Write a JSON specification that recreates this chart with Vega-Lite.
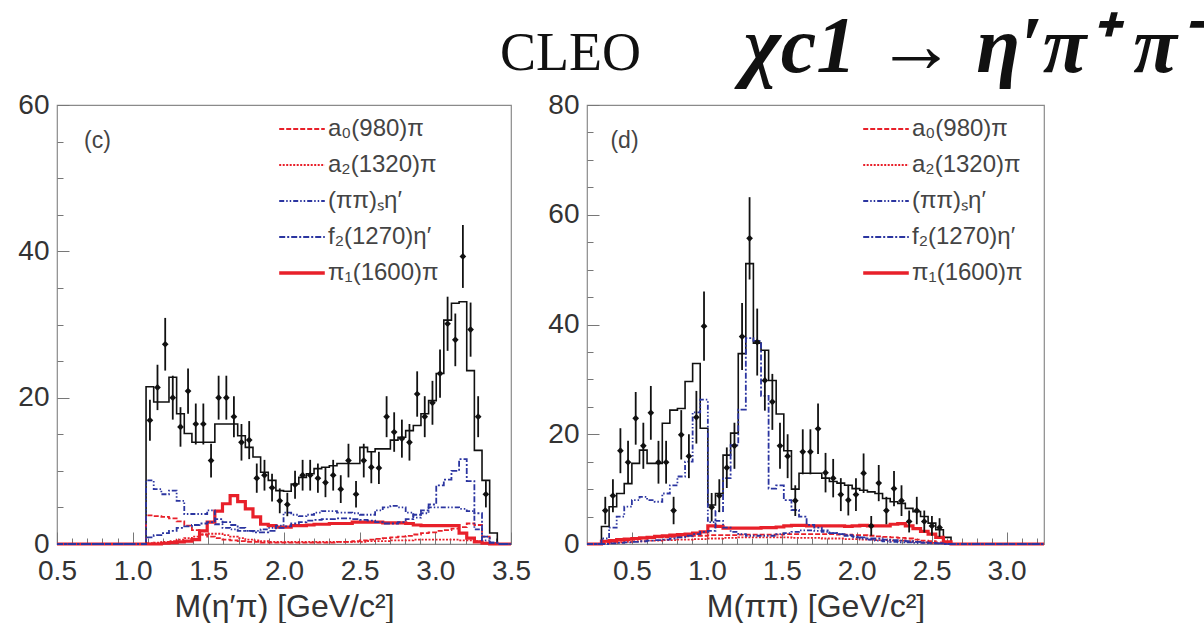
{
  "$schema": "https://vega.github.io/schema/vega-lite/v6.json",
  "background": "white",
  "padding": {"left": 17, "top": 7, "right": 0, "bottom": 0},
  "bounds": "flush",
  "spacing": 76,
  "config": {
    "view": {"stroke": "#8a8a8a", "strokeWidth": 1.2},
    "axis": {"grid": false, "domain": false, "tickColor": "#777", "labelFont": "Liberation Sans", "labelColor": "#333", "titleFont": "Liberation Sans", "titleColor": "#333", "titleFontWeight": "normal", "labelFlush": false, "labelOverlap": false},
    "legend": {"title": null, "orient": "none", "symbolType": "M-1.25,0H1.25", "symbolSize": 1330, "labelFont": "Liberation Sans", "labelFontSize": 24, "labelColor": "#444", "rowPadding": 12, "padding": 0}
  },
  "datasets": {
    "L": [
      {"x":0.5,"t":0,"a0":0,"a2":0,"s":0,"f2":0,"p1":0},
      {"x":1.063,"t":0,"a0":0,"a2":0,"s":0,"f2":0,"p1":0},
      {"x":1.114,"d":16.9,"lo":14.1,"hi":19.7,"t":21.5,"a0":3.9,"a2":0.1,"s":8.7,"f2":0.9,"p1":0},
      {"x":1.164,"d":21.4,"lo":18.3,"hi":24.5,"t":19.4,"a0":3.8,"a2":0.2,"s":7.5,"f2":1.2,"p1":0},
      {"x":1.215,"d":27.3,"lo":23.7,"hi":30.9,"t":19.4,"a0":3.7,"a2":0.3,"s":6.8,"f2":1.5,"p1":0.1},
      {"x":1.265,"d":20.0,"lo":17.0,"hi":23.0,"t":22.8,"a0":3.5,"a2":0.4,"s":7.3,"f2":1.8,"p1":0.2},
      {"x":1.316,"d":16.0,"lo":13.3,"hi":18.7,"t":17.8,"a0":3.1,"a2":0.6,"s":5.9,"f2":2.2,"p1":0.3},
      {"x":1.366,"d":20.9,"lo":17.8,"hi":24.0,"t":15.1,"a0":2.5,"a2":0.8,"s":4.1,"f2":2.4,"p1":0.4},
      {"x":1.417,"d":16.4,"lo":13.6,"hi":19.2,"t":13.9,"a0":1.9,"a2":1.0,"s":4.1,"f2":2.6,"p1":0.6},
      {"x":1.467,"d":16.4,"lo":13.6,"hi":19.2,"t":13.9,"a0":1.3,"a2":1.3,"s":4.1,"f2":2.8,"p1":1.8},
      {"x":1.518,"d":11.4,"lo":9.1,"hi":13.7,"t":13.9,"a0":1.0,"a2":1.4,"s":4.6,"f2":3.0,"p1":3.0},
      {"x":1.568,"d":20.0,"lo":17.0,"hi":23.0,"t":16.4,"a0":0.8,"a2":1.4,"s":2.7,"f2":3.4,"p1":4.5},
      {"x":1.619,"d":20.0,"lo":17.0,"hi":23.0,"t":16.4,"a0":0.6,"a2":1.2,"s":2.2,"f2":3.0,"p1":5.5},
      {"x":1.669,"d":17.4,"lo":14.6,"hi":20.2,"t":16.4,"a0":0.5,"a2":1.0,"s":2.0,"f2":2.6,"p1":6.6},
      {"x":1.719,"d":13.9,"lo":11.4,"hi":16.4,"t":14.8,"a0":0.4,"a2":0.8,"s":1.8,"f2":2.2,"p1":5.8},
      {"x":1.770,"d":14.2,"lo":11.6,"hi":16.8,"t":13.2,"a0":0.3,"a2":0.6,"s":1.8,"f2":1.8,"p1":4.8},
      {"x":1.820,"d":9.0,"lo":7.0,"hi":11.0,"t":11.9,"a0":0.3,"a2":0.5,"s":1.8,"f2":1.6,"p1":3.7},
      {"x":1.871,"d":9.4,"lo":7.3,"hi":11.5,"t":9.8,"a0":0.2,"a2":0.4,"s":2.0,"f2":1.6,"p1":2.7},
      {"x":1.921,"d":7.7,"lo":5.8,"hi":9.6,"t":8.7,"a0":0.2,"a2":0.3,"s":2.2,"f2":1.8,"p1":2.5},
      {"x":1.972,"d":5.9,"lo":4.2,"hi":7.6,"t":7.3,"a0":0.2,"a2":0.3,"s":2.5,"f2":2.2,"p1":2.3},
      {"x":2.022,"d":5.4,"lo":3.8,"hi":7.0,"t":7.2,"a0":0.2,"a2":0.3,"s":4.3,"f2":2.4,"p1":2.3},
      {"x":2.073,"d":8.1,"lo":6.2,"hi":10.0,"t":8.2,"a0":0.2,"a2":0.3,"s":4.0,"f2":2.8,"p1":2.5},
      {"x":2.123,"d":9.4,"lo":7.3,"hi":11.5,"t":9.1,"a0":0.2,"a2":0.3,"s":3.8,"f2":3.0,"p1":2.5},
      {"x":2.173,"d":9.4,"lo":7.3,"hi":11.5,"t":9.6,"a0":0.2,"a2":0.3,"s":4.0,"f2":3.2,"p1":2.6},
      {"x":2.224,"d":9.0,"lo":7.0,"hi":11.0,"t":10.3,"a0":0.2,"a2":0.3,"s":4.3,"f2":3.3,"p1":2.7},
      {"x":2.274,"d":8.4,"lo":6.4,"hi":10.4,"t":10.5,"a0":0.2,"a2":0.3,"s":4.5,"f2":3.4,"p1":2.7},
      {"x":2.325,"d":9.4,"lo":7.3,"hi":11.5,"t":10.7,"a0":0.2,"a2":0.3,"s":4.5,"f2":3.4,"p1":2.8},
      {"x":2.375,"d":7.5,"lo":5.6,"hi":9.4,"t":11.0,"a0":0.3,"a2":0.3,"s":4.3,"f2":3.5,"p1":2.8},
      {"x":2.426,"d":11.4,"lo":9.1,"hi":13.7,"t":11.0,"a0":0.3,"a2":0.3,"s":4.3,"f2":3.5,"p1":2.8},
      {"x":2.476,"d":6.8,"lo":5.0,"hi":8.6,"t":11.0,"a0":0.4,"a2":0.3,"s":4.2,"f2":3.4,"p1":3.0},
      {"x":2.527,"d":11.4,"lo":9.1,"hi":13.7,"t":13.2,"a0":0.5,"a2":0.3,"s":4.0,"f2":3.3,"p1":3.0},
      {"x":2.577,"d":10.5,"lo":8.3,"hi":12.7,"t":12.6,"a0":0.6,"a2":0.4,"s":4.0,"f2":3.2,"p1":3.0},
      {"x":2.627,"d":10.4,"lo":8.2,"hi":12.6,"t":13.0,"a0":0.7,"a2":0.4,"s":4.6,"f2":3.0,"p1":3.0},
      {"x":2.678,"d":17.4,"lo":14.6,"hi":20.2,"t":13.0,"a0":0.8,"a2":0.4,"s":5.0,"f2":2.8,"p1":2.9},
      {"x":2.728,"d":15.3,"lo":12.6,"hi":18.0,"t":14.2,"a0":0.9,"a2":0.5,"s":5.2,"f2":2.8,"p1":2.9},
      {"x":2.779,"d":14.4,"lo":11.8,"hi":17.0,"t":14.6,"a0":1.0,"a2":0.5,"s":5.0,"f2":3.0,"p1":2.9},
      {"x":2.829,"d":13.9,"lo":11.4,"hi":16.4,"t":15.5,"a0":1.1,"a2":0.5,"s":4.3,"f2":3.4,"p1":2.8},
      {"x":2.880,"d":20.5,"lo":17.4,"hi":23.6,"t":16.2,"a0":1.3,"a2":0.6,"s":3.6,"f2":4.0,"p1":2.6},
      {"x":2.930,"d":17.4,"lo":14.6,"hi":20.2,"t":17.8,"a0":1.5,"a2":0.6,"s":4.2,"f2":4.6,"p1":2.5},
      {"x":2.981,"d":19.3,"lo":16.3,"hi":22.3,"t":19.6,"a0":1.6,"a2":0.6,"s":5.0,"f2":5.4,"p1":2.5},
      {"x":3.031,"d":23.3,"lo":20.0,"hi":26.6,"t":23.3,"a0":1.8,"a2":0.6,"s":5.0,"f2":8.0,"p1":2.5},
      {"x":3.081,"d":30.1,"lo":26.4,"hi":33.8,"t":30.6,"a0":1.9,"a2":0.6,"s":5.0,"f2":8.8,"p1":2.5},
      {"x":3.132,"d":27.9,"lo":24.3,"hi":31.5,"t":32.9,"a0":2.1,"a2":0.6,"s":5.0,"f2":10.0,"p1":2.5},
      {"x":3.182,"d":39.3,"lo":35.0,"hi":43.6,"t":33.1,"a0":2.3,"a2":0.5,"s":4.8,"f2":11.6,"p1":1.5},
      {"x":3.233,"d":29.3,"lo":25.6,"hi":33.0,"t":23.7,"a0":2.8,"a2":0.5,"s":4.5,"f2":8.6,"p1":0.8},
      {"x":3.283,"d":17.4,"lo":14.6,"hi":20.2,"t":12.8,"a0":2.6,"a2":0.4,"s":2.0,"f2":4.2,"p1":0.3},
      {"x":3.334,"d":6.8,"lo":5.0,"hi":8.6,"t":8.7,"a0":1.0,"a2":0.2,"s":0.5,"f2":1.0,"p1":0.1},
      {"x":3.384,"t":1.5,"a0":0.1,"a2":0.1,"s":0.2,"f2":0.2,"p1":0},
      {"x":3.435,"t":0,"a0":0,"a2":0,"s":0,"f2":0,"p1":0},
      {"x":3.5,"t":0,"a0":0,"a2":0,"s":0,"f2":0,"p1":0}
    ],
    "R": [
      {"x":0.2,"t":0,"a0":0,"a2":0,"s":0,"f2":0,"p1":0},
      {"x":0.271,"t":0,"a0":0,"a2":0,"s":0,"f2":0,"p1":0},
      {"x":0.322,"d":6.1,"lo":3.6,"hi":8.6,"t":3.2,"a0":0.2,"a2":0.1,"s":1.0,"f2":0,"p1":0.5},
      {"x":0.373,"d":8.8,"lo":5.8,"hi":11.8,"t":6.8,"a0":0.4,"a2":0.2,"s":3.0,"f2":0.1,"p1":0.6},
      {"x":0.423,"d":17.0,"lo":12.9,"hi":21.1,"t":9.2,"a0":0.6,"a2":0.3,"s":5.0,"f2":0.2,"p1":0.8},
      {"x":0.474,"d":14.9,"lo":11.0,"hi":18.8,"t":11.0,"a0":0.7,"a2":0.4,"s":6.8,"f2":0.3,"p1":0.9},
      {"x":0.525,"d":22.9,"lo":18.1,"hi":27.7,"t":14.7,"a0":0.9,"a2":0.5,"s":8.0,"f2":0.4,"p1":1.0},
      {"x":0.576,"d":17.9,"lo":13.7,"hi":22.1,"t":17.1,"a0":1.0,"a2":0.5,"s":8.6,"f2":0.5,"p1":1.1},
      {"x":0.626,"d":23.9,"lo":19.0,"hi":28.8,"t":14.7,"a0":1.1,"a2":0.6,"s":8.0,"f2":0.6,"p1":1.2},
      {"x":0.677,"d":14.9,"lo":11.0,"hi":18.8,"t":14.7,"a0":1.2,"a2":0.6,"s":7.7,"f2":0.7,"p1":1.4},
      {"x":0.728,"d":14.9,"lo":11.0,"hi":18.8,"t":22.0,"a0":1.2,"a2":0.7,"s":9.2,"f2":0.8,"p1":1.5},
      {"x":0.778,"d":6.1,"lo":3.6,"hi":8.6,"t":24.4,"a0":1.3,"a2":0.7,"s":10.7,"f2":1.0,"p1":1.6},
      {"x":0.829,"d":19.9,"lo":15.4,"hi":24.4,"t":24.7,"a0":1.4,"a2":0.8,"s":12.3,"f2":1.2,"p1":1.7},
      {"x":0.880,"d":16.0,"lo":12.0,"hi":20.0,"t":29.6,"a0":1.4,"a2":0.8,"s":15.0,"f2":1.5,"p1":1.8},
      {"x":0.930,"d":23.1,"lo":18.3,"hi":27.9,"t":32.9,"a0":1.5,"a2":0.9,"s":24.0,"f2":1.8,"p1":2.0},
      {"x":0.981,"d":39.7,"lo":33.4,"hi":46.0,"t":21.1,"a0":1.5,"a2":0.9,"s":26.3,"f2":2.2,"p1":2.2},
      {"x":1.032,"d":6.7,"lo":4.1,"hi":9.3,"t":7.1,"a0":1.6,"a2":1.0,"s":4.0,"f2":2.4,"p1":3.3},
      {"x":1.083,"d":8.8,"lo":5.8,"hi":11.8,"t":9.2,"a0":1.6,"a2":1.0,"s":4.2,"f2":6.0,"p1":3.2},
      {"x":1.133,"d":13.9,"lo":10.2,"hi":17.6,"t":16.2,"a0":1.6,"a2":1.1,"s":3.0,"f2":12.0,"p1":2.9},
      {"x":1.184,"d":17.9,"lo":13.7,"hi":22.1,"t":20.2,"a0":1.6,"a2":1.1,"s":2.2,"f2":18.0,"p1":2.9},
      {"x":1.235,"d":37.8,"lo":31.7,"hi":43.9,"t":34.7,"a0":1.7,"a2":1.2,"s":1.8,"f2":24.5,"p1":2.9},
      {"x":1.285,"d":55.7,"lo":48.2,"hi":63.2,"t":51.1,"a0":1.7,"a2":1.2,"s":1.5,"f2":37.5,"p1":2.9},
      {"x":1.336,"d":36.8,"lo":30.7,"hi":42.9,"t":36.6,"a0":1.7,"a2":1.2,"s":1.5,"f2":37.0,"p1":2.9},
      {"x":1.387,"d":29.8,"lo":24.3,"hi":35.3,"t":35.3,"a0":1.7,"a2":1.2,"s":1.5,"f2":27.0,"p1":3.0},
      {"x":1.437,"d":25.9,"lo":20.8,"hi":31.0,"t":29.8,"a0":1.7,"a2":1.2,"s":1.5,"f2":10.1,"p1":3.0},
      {"x":1.488,"d":17.9,"lo":13.7,"hi":22.1,"t":23.7,"a0":1.7,"a2":1.2,"s":1.8,"f2":10.7,"p1":3.1},
      {"x":1.539,"d":16.0,"lo":12.0,"hi":20.0,"t":17.0,"a0":1.8,"a2":1.2,"s":2.0,"f2":8.0,"p1":3.3},
      {"x":1.590,"d":7.9,"lo":5.1,"hi":10.7,"t":10.0,"a0":1.8,"a2":1.1,"s":2.2,"f2":6.2,"p1":3.4},
      {"x":1.640,"d":16.8,"lo":12.7,"hi":20.9,"t":12.9,"a0":1.8,"a2":1.1,"s":2.5,"f2":5.0,"p1":3.4},
      {"x":1.691,"d":16.8,"lo":12.7,"hi":20.9,"t":12.9,"a0":1.8,"a2":1.1,"s":2.5,"f2":3.5,"p1":3.3},
      {"x":1.742,"d":21.0,"lo":16.4,"hi":25.6,"t":12.9,"a0":1.8,"a2":1.1,"s":2.4,"f2":3.0,"p1":3.3},
      {"x":1.792,"d":13.0,"lo":9.4,"hi":16.6,"t":12.0,"a0":1.8,"a2":1.0,"s":2.2,"f2":2.5,"p1":3.3},
      {"x":1.843,"d":12.0,"lo":8.5,"hi":15.5,"t":11.4,"a0":1.8,"a2":1.0,"s":2.0,"f2":2.0,"p1":3.3},
      {"x":1.894,"d":9.0,"lo":6.0,"hi":12.0,"t":11.1,"a0":1.7,"a2":1.0,"s":1.8,"f2":1.8,"p1":3.3},
      {"x":1.944,"d":8.0,"lo":5.2,"hi":10.8,"t":10.7,"a0":1.7,"a2":0.9,"s":1.5,"f2":1.6,"p1":3.2},
      {"x":1.995,"d":9.0,"lo":6.0,"hi":12.0,"t":10.1,"a0":1.6,"a2":0.9,"s":1.2,"f2":1.4,"p1":3.3},
      {"x":2.046,"d":12.9,"lo":9.3,"hi":16.5,"t":9.8,"a0":1.6,"a2":0.8,"s":1.0,"f2":1.2,"p1":3.4},
      {"x":2.097,"d":3.3,"lo":1.5,"hi":5.1,"t":9.5,"a0":1.5,"a2":0.8,"s":0.8,"f2":1.0,"p1":3.3},
      {"x":2.147,"d":11.1,"lo":7.8,"hi":14.4,"t":9.2,"a0":1.4,"a2":0.7,"s":0.6,"f2":1.0,"p1":3.3},
      {"x":2.198,"d":6.1,"lo":3.6,"hi":8.6,"t":8.3,"a0":1.3,"a2":0.7,"s":0.5,"f2":0.8,"p1":3.3},
      {"x":2.249,"d":10.1,"lo":6.9,"hi":13.3,"t":7.7,"a0":1.2,"a2":0.6,"s":0.4,"f2":0.7,"p1":3.6},
      {"x":2.299,"d":7.9,"lo":5.1,"hi":10.7,"t":7.4,"a0":1.1,"a2":0.6,"s":0.3,"f2":0.6,"p1":3.7},
      {"x":2.350,"d":4.1,"lo":2.1,"hi":6.1,"t":6.5,"a0":1.0,"a2":0.5,"s":0.3,"f2":0.5,"p1":3.3},
      {"x":2.401,"d":6.1,"lo":3.6,"hi":8.6,"t":5.9,"a0":0.8,"a2":0.4,"s":0.2,"f2":0.4,"p1":2.8},
      {"x":2.451,"d":4.1,"lo":2.1,"hi":6.1,"t":5.0,"a0":0.6,"a2":0.3,"s":0.2,"f2":0.3,"p1":2.3},
      {"x":2.502,"d":3.3,"lo":1.5,"hi":5.1,"t":3.8,"a0":0.5,"a2":0.2,"s":0.1,"f2":0.2,"p1":1.8},
      {"x":2.553,"d":3.0,"lo":1.3,"hi":4.7,"t":2.6,"a0":0.3,"a2":0.1,"s":0.1,"f2":0.1,"p1":1.2},
      {"x":2.604,"t":1.2,"a0":0.1,"a2":0.1,"s":0,"f2":0,"p1":0.4},
      {"x":2.655,"t":0,"a0":0,"a2":0,"s":0,"f2":0,"p1":0},
      {"x":3.25,"t":0,"a0":0,"a2":0,"s":0,"f2":0,"p1":0}
    ]
  },
  "resolve": {
    "scale": {"color": "independent", "strokeDash": "independent"},
    "legend": {"color": "independent", "strokeDash": "independent"}
  },
  "hconcat": [
    {
      "width": 454,
      "height": 439,
      "title": {"text": "CLEO", "anchor": "end", "frame": "group", "dx": 130, "offset": 10, "font": "Liberation Serif", "fontSize": 54, "fontWeight": "normal", "color": "#111"},
      "resolve": {"axis": {"x": "independent", "y": "independent"}},
      "layer": [
        {
          "data": {"name": "L"},
          "mark": {"type": "line", "interpolate": "step", "color": "#111", "strokeWidth": 1.6},
          "encoding": {
            "x": {"field": "x", "type": "quantitative", "scale": {"domain": [0.5, 3.5], "nice": false, "zero": false},
              "axis": {"orient": "bottom", "values": [0.5, 1, 1.5, 2, 2.5, 3, 3.5], "format": ".1f", "title": "M(η′π) [GeV/c²]", "titleFontSize": 32, "titlePadding": 6, "labelFontSize": 28, "tickSize": -12, "labelPadding": 25}},
            "y": {"field": "t", "type": "quantitative", "scale": {"domain": [0, 60], "nice": false},
              "axis": {"orient": "left", "values": [0, 20, 40, 60], "labelFontSize": 28, "tickSize": -12, "labelPadding": 20, "title": "(c)", "titleAngle": 0, "titleX": 40, "titleY": 35, "titleAlign": "center", "titleBaseline": "middle", "titleFontSize": 23, "titleColor": "#444"}}
          }
        },
        {
          "data": {"name": "L"},
          "transform": [{"fold": ["p1", "a0", "a2", "s", "f2"], "as": ["comp", "v"]}],
          "mark": {"type": "line", "interpolate": "step"},
          "encoding": {
            "x": {"field": "x", "type": "quantitative", "scale": {"domain": [0.5, 3.5], "nice": false, "zero": false}, "axis": null},
            "y": {"field": "v", "type": "quantitative", "scale": {"domain": [0, 60], "nice": false}, "axis": null},
            "color": {"field": "comp", "type": "nominal",
              "scale": {"domain": ["a0", "a2", "s", "f2", "p1"], "range": ["#e8202a", "#e8202a", "#2b35a0", "#2b35a0", "#e8202a"]},
              "legend": {"legendX": 233, "legendY": 12, "labelOffset": 14,
                "labelExpr": "datum.label == 'a0' ? 'a₀(980)π' : datum.label == 'a2' ? 'a₂(1320)π' : datum.label == 's' ? '(ππ)ₛη′' : datum.label == 'f2' ? 'f₂(1270)η′' : 'π₁(1600)π'",
                "encode": {"symbols": {"update": {"strokeWidth": {"signal": "datum.value === 'p1' ? 3.5 : 1.8"}}}}}},
            "strokeDash": {"field": "comp", "type": "nominal",
              "scale": {"domain": ["a0", "a2", "s", "f2", "p1"], "range": [[5, 2], [2, 1.5], [5, 2, 1.5, 2, 1.5, 2], [6, 2, 2, 2], [1, 0]]},
              "legend": {"legendX": 233, "legendY": 12, "labelOffset": 14,
                "labelExpr": "datum.label == 'a0' ? 'a₀(980)π' : datum.label == 'a2' ? 'a₂(1320)π' : datum.label == 's' ? '(ππ)ₛη′' : datum.label == 'f2' ? 'f₂(1270)η′' : 'π₁(1600)π'",
                "encode": {"symbols": {"update": {"strokeWidth": {"signal": "datum.value === 'p1' ? 3.5 : 1.8"}}}}}},
            "strokeWidth": {"condition": {"test": "datum.comp === 'p1'", "value": 3.2}, "value": 1.8}
          }
        },
        {
          "data": {"name": "L"},
          "transform": [{"filter": "isValid(datum.d)"}],
          "mark": {"type": "rule", "color": "#111", "strokeWidth": 1.8},
          "encoding": {
            "x": {"field": "x", "type": "quantitative", "scale": {"domain": [0.5, 3.5], "nice": false, "zero": false}, "axis": null},
            "y": {"field": "lo", "type": "quantitative", "scale": {"domain": [0, 60], "nice": false}, "axis": null},
            "y2": {"field": "hi"}
          }
        },
        {
          "data": {"name": "L"},
          "transform": [{"filter": "isValid(datum.d)"}],
          "mark": {"type": "point", "shape": "diamond", "filled": true, "color": "#111", "size": 45, "opacity": 1},
          "encoding": {
            "x": {"field": "x", "type": "quantitative", "scale": {"domain": [0.5, 3.5], "nice": false, "zero": false},
              "axis": {"orient": "bottom", "values": [0.6,0.7,0.8,0.9,1.1,1.2,1.3,1.4,1.6,1.7,1.8,1.9,2.1,2.2,2.3,2.4,2.6,2.7,2.8,2.9,3.1,3.2,3.3,3.4], "labels": false, "tickSize": -6, "title": null}},
            "y": {"field": "d", "type": "quantitative", "scale": {"domain": [0, 60], "nice": false},
              "axis": {"orient": "left", "values": [5,10,15,25,30,35,45,50,55], "labels": false, "tickSize": -6, "title": null}}
          }
        }
      ]
    },
    {
      "width": 457,
      "height": 439,
      "title": {"text": "χc1  →  η′π⁺ π⁻", "anchor": "end", "frame": "group", "dx": 160, "offset": 2, "font": "Liberation Serif", "fontSize": 80, "fontStyle": "italic", "fontWeight": "bold", "color": "#111"},
      "resolve": {"axis": {"x": "independent", "y": "independent"}},
      "layer": [
        {
          "data": {"name": "R"},
          "mark": {"type": "line", "interpolate": "step", "color": "#111", "strokeWidth": 1.6},
          "encoding": {
            "x": {"field": "x", "type": "quantitative", "scale": {"domain": [0.2, 3.25], "nice": false, "zero": false},
              "axis": {"orient": "bottom", "values": [0.5, 1, 1.5, 2, 2.5, 3], "format": ".1f", "title": "M(ππ) [GeV/c²]", "titleFontSize": 32, "titlePadding": 6, "labelFontSize": 28, "tickSize": -12, "labelPadding": 25}},
            "y": {"field": "t", "type": "quantitative", "scale": {"domain": [0, 80], "nice": false},
              "axis": {"orient": "left", "values": [0, 20, 40, 60, 80], "labelFontSize": 28, "tickSize": -12, "labelPadding": 20, "title": "(d)", "titleAngle": 0, "titleX": 37, "titleY": 35, "titleAlign": "center", "titleBaseline": "middle", "titleFontSize": 23, "titleColor": "#444"}}
          }
        },
        {
          "data": {"name": "R"},
          "transform": [{"fold": ["p1", "a0", "a2", "s", "f2"], "as": ["comp", "v"]}],
          "mark": {"type": "line", "interpolate": "step"},
          "encoding": {
            "x": {"field": "x", "type": "quantitative", "scale": {"domain": [0.2, 3.25], "nice": false, "zero": false}, "axis": null},
            "y": {"field": "v", "type": "quantitative", "scale": {"domain": [0, 80], "nice": false}, "axis": null},
            "color": {"field": "comp", "type": "nominal",
              "scale": {"domain": ["a0", "a2", "s", "f2", "p1"], "range": ["#e8202a", "#e8202a", "#2b35a0", "#2b35a0", "#e8202a"]},
              "legend": {"legendX": 287, "legendY": 12, "labelOffset": 14,
                "labelExpr": "datum.label == 'a0' ? 'a₀(980)π' : datum.label == 'a2' ? 'a₂(1320)π' : datum.label == 's' ? '(ππ)ₛη′' : datum.label == 'f2' ? 'f₂(1270)η′' : 'π₁(1600)π'",
                "encode": {"symbols": {"update": {"strokeWidth": {"signal": "datum.value === 'p1' ? 3.5 : 1.8"}}}}}},
            "strokeDash": {"field": "comp", "type": "nominal",
              "scale": {"domain": ["a0", "a2", "s", "f2", "p1"], "range": [[5, 2], [2, 1.5], [5, 2, 1.5, 2, 1.5, 2], [6, 2, 2, 2], [1, 0]]},
              "legend": {"legendX": 287, "legendY": 12, "labelOffset": 14,
                "labelExpr": "datum.label == 'a0' ? 'a₀(980)π' : datum.label == 'a2' ? 'a₂(1320)π' : datum.label == 's' ? '(ππ)ₛη′' : datum.label == 'f2' ? 'f₂(1270)η′' : 'π₁(1600)π'",
                "encode": {"symbols": {"update": {"strokeWidth": {"signal": "datum.value === 'p1' ? 3.5 : 1.8"}}}}}},
            "strokeWidth": {"condition": {"test": "datum.comp === 'p1'", "value": 3.2}, "value": 1.8}
          }
        },
        {
          "data": {"name": "R"},
          "transform": [{"filter": "isValid(datum.d)"}],
          "mark": {"type": "rule", "color": "#111", "strokeWidth": 1.8},
          "encoding": {
            "x": {"field": "x", "type": "quantitative", "scale": {"domain": [0.2, 3.25], "nice": false, "zero": false}, "axis": null},
            "y": {"field": "lo", "type": "quantitative", "scale": {"domain": [0, 80], "nice": false}, "axis": null},
            "y2": {"field": "hi"}
          }
        },
        {
          "data": {"name": "R"},
          "transform": [{"filter": "isValid(datum.d)"}],
          "mark": {"type": "point", "shape": "diamond", "filled": true, "color": "#111", "size": 45, "opacity": 1},
          "encoding": {
            "x": {"field": "x", "type": "quantitative", "scale": {"domain": [0.2, 3.25], "nice": false, "zero": false},
              "axis": {"orient": "bottom", "values": [0.3,0.4,0.6,0.7,0.8,0.9,1.1,1.2,1.3,1.4,1.6,1.7,1.8,1.9,2.1,2.2,2.3,2.4,2.6,2.7,2.8,2.9,3.1,3.2], "labels": false, "tickSize": -6, "title": null}},
            "y": {"field": "d", "type": "quantitative", "scale": {"domain": [0, 80], "nice": false},
              "axis": {"orient": "left", "values": [5,10,15,25,30,35,45,50,55,65,70,75], "labels": false, "tickSize": -6, "title": null}}
          }
        }
      ]
    }
  ]
}
